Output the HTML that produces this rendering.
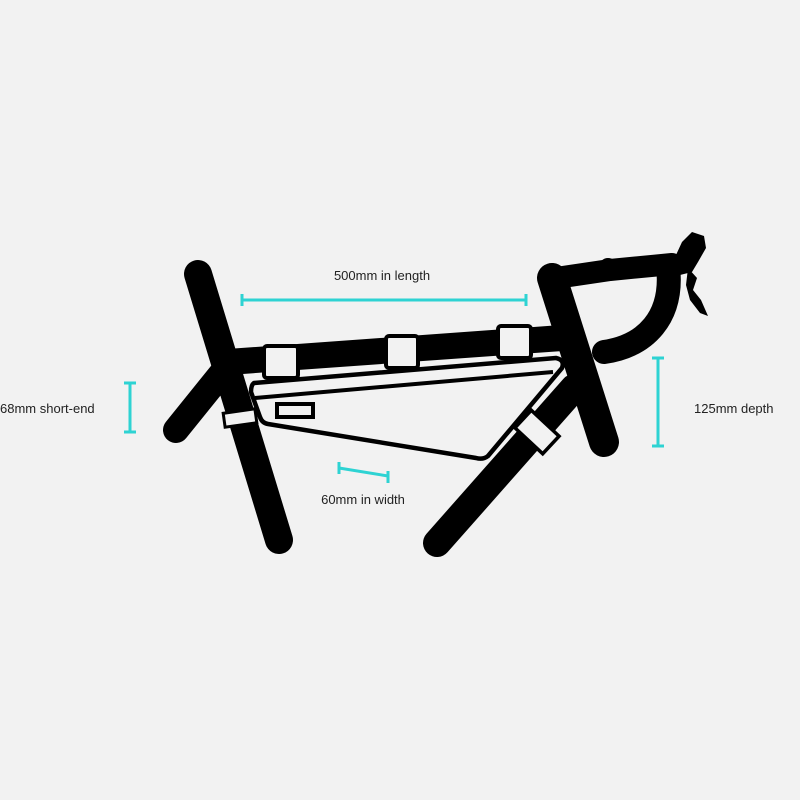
<!DOCTYPE html>
<html><head><style>
html,body{margin:0;padding:0;background:#f2f2f2;}
svg{display:block}
text{font-family:"Liberation Sans",sans-serif;font-size:13px;fill:#222;}
</style></head><body>
<svg width="800" height="800" viewBox="0 0 800 800">
<rect width="800" height="800" fill="#f2f2f2"/>
<g stroke="#000" stroke-linecap="round" fill="none" stroke-linejoin="round">
  <line x1="198" y1="274" x2="279" y2="540" stroke-width="28"/>
  <line x1="226" y1="368" x2="176" y2="430" stroke-width="26"/>
  <line x1="228" y1="362" x2="562" y2="338" stroke-width="26"/>
  <line x1="574" y1="388" x2="437" y2="543" stroke-width="28"/>
  <line x1="552" y1="278" x2="604" y2="442" stroke-width="30"/>
  <path d="M556 278 L610 270 L672 264" stroke-width="22"/>
  <path d="M668 266 C674 318 645 346 604 352" stroke-width="24"/>
</g>
<ellipse cx="608" cy="267" rx="9" ry="9" fill="#000"/>
<path d="M662 260 L676 255 L682 242 L692 232 L704 236 L706 248 L698 262 L692 272 L676 276 Z" fill="#000"/>
<path d="M688 268 L697 278 L693 290 L701 300 L708 316 L700 313 L690 300 L686 285 Z" fill="#000"/>
<g fill="#f2f2f2" stroke="#000" stroke-width="4">
  <rect x="264" y="346" width="34" height="32" rx="3"/>
  <rect x="386" y="336" width="32" height="32" rx="3"/>
  <rect x="498" y="326" width="33" height="32" rx="3"/>
</g>
<path d="M254 383 L556 358 Q565 360 562 368 L488 456 Q483 460 476 458 L268 424 Q262 423 260 417 L251 392 Q251 385 254 383 Z" fill="#f2f2f2" stroke="#000" stroke-width="4.5" stroke-linejoin="round"/>
<line x1="255" y1="398" x2="553" y2="372" stroke="#000" stroke-width="4"/>
<rect x="277" y="404" width="36" height="13" fill="none" stroke="#000" stroke-width="4"/>
<rect x="224" y="411" width="32" height="14" fill="#f2f2f2" stroke="#000" stroke-width="3" transform="rotate(-8 240 418)"/>
<rect x="518" y="420" width="38" height="24" fill="#f2f2f2" stroke="#000" stroke-width="3.5" transform="rotate(43 537 432)"/>
<g stroke="#2ed3d3" stroke-width="3" fill="none">
  <line x1="242" y1="300" x2="526" y2="300"/><line x1="242" y1="294" x2="242" y2="306"/><line x1="526" y1="294" x2="526" y2="306"/>
  <line x1="339" y1="468" x2="388" y2="476"/><line x1="339" y1="462" x2="339" y2="474"/><line x1="388" y1="471" x2="388" y2="483"/>
  <line x1="130" y1="383" x2="130" y2="432"/><line x1="124" y1="383" x2="136" y2="383"/><line x1="124" y1="432" x2="136" y2="432"/>
  <line x1="658" y1="358" x2="658" y2="446"/><line x1="652" y1="358" x2="664" y2="358"/><line x1="652" y1="446" x2="664" y2="446"/>
</g>
<text x="382" y="280" text-anchor="middle">500mm in length</text>
<text x="363" y="504" text-anchor="middle">60mm in width</text>
<text x="0" y="413">68mm short-end</text>
<text x="694" y="413">125mm depth</text>
</svg>
</body></html>
